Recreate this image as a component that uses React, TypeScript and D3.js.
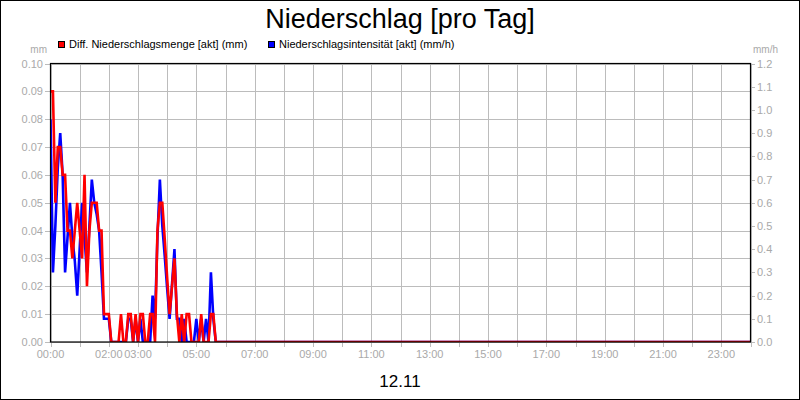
import React, { useEffect } from "react";
import * as d3 from "d3";

const chartTitle = "Niederschlag [pro Tag]";
const dateLabel = "12.11";
const seriesNames = ["Diff. Niederschlagsmenge [akt] (mm)", "Niederschlagsintensität [akt] (mm/h)"];
const seriesColors = ["#ff0000", "#0000ff"];
const leftUnit = "mm";
const rightUnit = "mm/h";

const stepMinutes = 5;
const dayEndMinutes = 1440;

// Diff. Niederschlagsmenge [mm], 5-minute values from 00:00 (afterwards 0 until 24:00)
const amountMm = [
  0.09, 0.09, 0.05, 0.07, 0.07, 0.06, 0.06, 0.04, 0.04, 0.03,
  0.04, 0.05, 0.04, 0.03, 0.06, 0.02, 0.04, 0.05, 0.05, 0.05,
  0.04, 0.04, 0.01, 0.01, 0.01, 0, 0, 0, 0, 0.01,
  0, 0, 0.01, 0.01, 0, 0.01, 0, 0.01, 0.01, 0,
  0, 0.01, 0.01, 0, 0.04, 0.05, 0.05, 0.037, 0.023, 0.01,
  0.02, 0.03, 0.01, 0, 0.01, 0, 0.01, 0.01, 0, 0,
  0, 0, 0.01, 0, 0, 0, 0.01, 0.01, 0,
];

// Niederschlagsintensität [mm/h], 5-minute values from 00:00 (afterwards 0 until 24:00)
const intensityMmH = [
  0.96, 0.3, 0.5, 0.75, 0.9, 0.72, 0.3, 0.45, 0.6, 0.45,
  0.35, 0.2, 0.4, 0.6, 0.45, 0.3, 0.5, 0.7, 0.6, 0.55,
  0.48, 0.3, 0.1, 0.1, 0.1, 0, 0, 0, 0, 0,
  0, 0, 0.1, 0.1, 0, 0.1, 0, 0.1, 0, 0,
  0, 0, 0.2, 0.1, 0.45, 0.7, 0.5, 0.37, 0.23, 0.1,
  0.25, 0.4, 0.1, 0.1, 0, 0.1, 0, 0, 0, 0,
  0.1, 0, 0.1, 0, 0.1, 0, 0.3, 0.1, 0,
];

const leftTicks = [0, 0.01, 0.02, 0.03, 0.04, 0.05, 0.06, 0.07, 0.08, 0.09, 0.1];
const rightTicks = [0, 0.1, 0.2, 0.3, 0.4, 0.5, 0.6, 0.7, 0.8, 0.9, 1.0, 1.1, 1.2];
const hourTicks = [0, 1, 2, 3, 4, 5, 6, 7, 8, 9, 10, 11, 12, 13, 14, 15, 16, 17, 18, 19, 20, 21, 22, 23, 24];
const hourLabels = ["00:00", "02:00", "03:00", "05:00", "07:00", "09:00", "11:00", "13:00", "15:00", "17:00", "19:00", "21:00", "23:00"];

const W = 800;
const H = 400;
const plot = { left: 50.5, right: 750.5, top: 63.5, bottom: 342 };
const FONT = "'Liberation Sans', Arial, Helvetica, sans-serif";
const GRID = "#bcbcbc";
const LABEL = "#a9a9a9";

function toPoints(values: number[]): [number, number][] {
  const pts: [number, number][] = values.map((v, i) => [i * stepMinutes, v]);
  pts.push([dayEndMinutes, 0]);
  return pts;
}

export default function App() {
  useEffect(() => {
    document.body.style.margin = "0";
  }, []);

  const x = d3.scaleLinear().domain([0, dayEndMinutes]).range([plot.left, plot.right]);
  const yL = d3.scaleLinear().domain([0, 0.1]).range([plot.bottom, plot.top]);
  const yR = d3.scaleLinear().domain([0, 1.2]).range([plot.bottom, plot.top]);

  const lineL = d3.line<[number, number]>().x((d) => x(d[0])).y((d) => yL(d[1]));
  const lineR = d3.line<[number, number]>().x((d) => x(d[0])).y((d) => yR(d[1]));

  const fmtL = d3.format(".2f");
  const fmtR = d3.format(".1f");

  return (
    <svg width={W} height={H} style={{ display: "block", position: "absolute", left: 0, top: 0, background: "#fff" }} fontFamily={FONT}>
      <defs>
        <clipPath id="plotClip">
          <rect x={plot.left} y={plot.top} width={plot.right - plot.left} height={plot.bottom - plot.top} />
        </clipPath>
      </defs>
      <rect x={0.5} y={0.5} width={W - 1} height={H - 1} fill="#fff" stroke="#000" strokeWidth={1} />

      <text x={400} y={28} textAnchor="middle" fontSize={27} fill="#000">{chartTitle}</text>

      {/* legend */}
      <rect x={58.5} y={41.5} width={6} height={6} fill={seriesColors[0]} stroke="#000" strokeWidth={1} />
      <text x={69} y={48} fontSize={11} fill="#000">{seriesNames[0]}</text>
      <rect x={268.5} y={41.5} width={6} height={6} fill={seriesColors[1]} stroke="#000" strokeWidth={1} />
      <text x={279} y={48} fontSize={11} fill="#000">{seriesNames[1]}</text>

      <text x={47} y={53} textAnchor="end" fontSize={10} fill={LABEL}>{leftUnit}</text>
      <text x={753} y={53} textAnchor="start" fontSize={10} fill={LABEL}>{rightUnit}</text>

      {/* grid */}
      {leftTicks.map((t) => (
        <line key={"gh" + t} x1={plot.left} x2={plot.right} y1={Math.round(yL(t)) + 0.5} y2={Math.round(yL(t)) + 0.5} stroke={GRID} strokeWidth={1} />
      ))}
      {hourTicks.map((h) => (
        <line key={"gv" + h} x1={Math.round(x(h * 60)) + 0.5} x2={Math.round(x(h * 60)) + 0.5} y1={plot.top} y2={plot.bottom} stroke={GRID} strokeWidth={1} />
      ))}

      {/* left axis */}
      {leftTicks.map((t) => (
        <g key={"lt" + t}>
          <line x1={45} x2={plot.left} y1={Math.round(yL(t)) + 0.5} y2={Math.round(yL(t)) + 0.5} stroke={GRID} strokeWidth={1} />
          <text x={43} y={yL(t) + 4} textAnchor="end" fontSize={11} fill={LABEL}>{fmtL(t)}</text>
        </g>
      ))}
      {/* right axis */}
      {rightTicks.map((t) => (
        <g key={"rt" + t}>
          <line x1={plot.right} x2={755} y1={Math.round(yR(t)) + 0.5} y2={Math.round(yR(t)) + 0.5} stroke={GRID} strokeWidth={1} />
          <text x={757} y={yR(t) + 4} textAnchor="start" fontSize={11} fill={LABEL}>{fmtR(t)}</text>
        </g>
      ))}
      {/* bottom axis */}
      {hourTicks.map((h) => (
        <line key={"bt" + h} x1={Math.round(x(h * 60)) + 0.5} x2={Math.round(x(h * 60)) + 0.5} y1={plot.bottom} y2={plot.bottom + 5} stroke={GRID} strokeWidth={1} />
      ))}
      {hourLabels.map((lab) => {
        const h = parseInt(lab.slice(0, 2), 10);
        return (
          <text key={"bl" + lab} x={x(h * 60)} y={357.5} textAnchor="middle" fontSize={11} fill={LABEL}>{lab}</text>
        );
      })}

      {/* series */}
      <g clipPath="url(#plotClip)">
        <path d={lineR(toPoints(intensityMmH)) || ""} fill="none" stroke={seriesColors[1]} strokeWidth={2.6} />
        <path d={lineL(toPoints(amountMm)) || ""} fill="none" stroke={seriesColors[0]} strokeWidth={2.6} />
      </g>

      {/* plot frame */}
      <rect x={plot.left} y={plot.top} width={plot.right - plot.left} height={plot.bottom - plot.top} fill="none" stroke="#000" strokeWidth={1.2} />

      <text x={400} y={387} textAnchor="middle" fontSize={17} fill="#000">{dateLabel}</text>
    </svg>
  );
}
